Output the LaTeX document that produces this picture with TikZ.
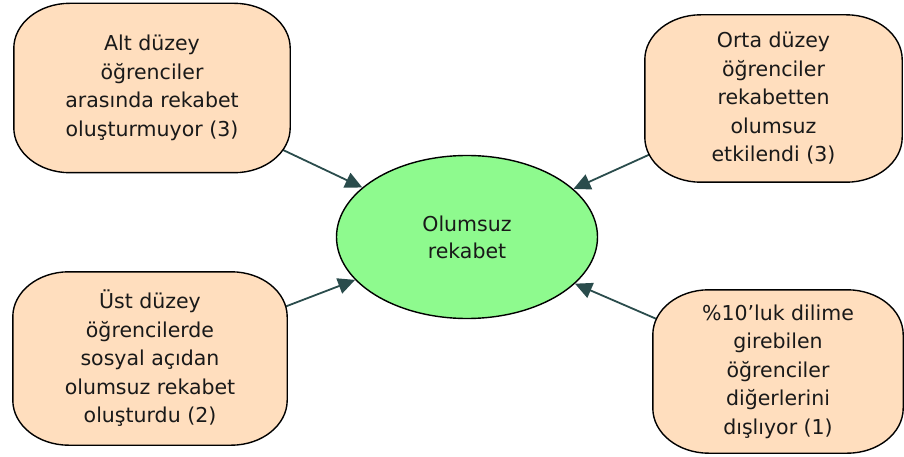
\documentclass[tikz,border=0pt]{standalone}
\usepackage{fontspec}
\setmainfont{DejaVu Sans}
\usetikzlibrary{arrows.meta,shapes.geometric,backgrounds,calc}
\definecolor{peach}{RGB}{255,222,190}
\definecolor{mint}{RGB}{142,250,142}
\definecolor{slate}{RGB}{42,76,76}
\definecolor{ink}{RGB}{25,25,25}
\tikzset{
  card/.style={align=center, text=ink, font=\fontsize{20.5}{28.5}\selectfont,
    inner sep=0pt},
  cardface/.style={draw=black, line width=1.4pt, fill=peach},
  hub/.style={draw=black, line width=1.4pt, fill=mint, ellipse, inner sep=0pt,
    align=center, text=ink, font=\fontsize{20.5}{27}\selectfont},
  link/.style={draw=slate, line width=1.8pt,
    -{Triangle[length=17pt,width=16pt]}}
}
% outline of a card with elliptical corners (56pt wide, 45pt tall)
\newcommand\cardframe[1]{%
  \path[cardface]
    ($(#1.north west)+(56pt,0pt)$) -- ($(#1.north east)+(-56pt,0pt)$)
    arc[start angle=90,end angle=0,x radius=56pt,y radius=45pt]
    -- ($(#1.south east)+(0pt,45pt)$)
    arc[start angle=0,end angle=-90,x radius=56pt,y radius=45pt]
    -- ($(#1.south west)+(56pt,0pt)$)
    arc[start angle=-90,end angle=-180,x radius=56pt,y radius=45pt]
    -- ($(#1.north west)+(0pt,-45pt)$)
    arc[start angle=180,end angle=90,x radius=56pt,y radius=45pt]
    -- cycle;}
\begin{document}
\begin{tikzpicture}[x=1pt,y=-1pt]
  \useasboundingbox (0,0) rectangle (904,457);
  % central ellipse
  \node[hub, minimum width=261pt, minimum height=163pt] (el) at (467,237)
    {Olumsuz\\rekabet};
  % surrounding cards
  \node[card, minimum width=276pt, minimum height=169pt] (tl) at (152,88)
    {Alt düzey\\öğrenciler\\arasında rekabet\\oluşturmuyor (3)};
  \node[card, minimum width=257pt, minimum height=167pt] (tr) at (773.5,98.5)
    {Orta düzey\\öğrenciler\\rekabetten\\olumsuz\\etkilendi (3)};
  \node[card, minimum width=274pt, minimum height=173pt] (bl) at (150,358.5)
    {Üst düzey\\öğrencilerde\\sosyal açıdan\\olumsuz rekabet\\oluşturdu (2)};
  \node[card, minimum width=250pt, minimum height=163pt] (br) at (778,371.5)
    {\%10’luk dilime\\girebilen\\öğrenciler\\diğerlerini\\dışlıyor (1)};
  \begin{scope}[on background layer]
    % connectors start inside each card and are covered by its face
    \draw[link] (tl.center) -- (el);
    \draw[link] (tr.center) -- (el);
    \draw[link] (bl.center) -- (el);
    \draw[link] (br.center) -- (el);
    % card faces
    \cardframe{tl}
    \cardframe{tr}
    \cardframe{bl}
    \cardframe{br}
  \end{scope}
\end{tikzpicture}
\end{document}
